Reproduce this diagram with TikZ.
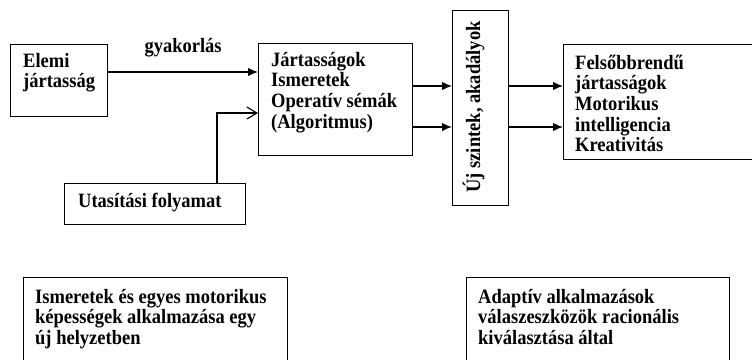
\documentclass[tikz,border=0pt]{standalone}
\usepackage{graphicx}
\usepackage{fontspec}
\setmainfont{Liberation Serif}
\usetikzlibrary{arrows.meta}
% left-aligned lines whose reference point is the first baseline,
% set slightly taller than the font's natural shape
\newcommand\linestack[1]{\scalebox{1}[1.1]{\vtop{\halign{##\hfil\cr#1\crcr}}}}
\newcommand\tallline[1]{\scalebox{1}[1.1]{#1}}

\begin{document}
\begin{tikzpicture}[x=1pt,y=-1pt,
  box/.style={draw, line width=1.15pt, inner sep=0pt, anchor=north west},
  txt/.style={anchor=base west, inner sep=0pt,
              font=\bfseries\fontsize{18.5}{18.8}\selectfont},
  arr/.style={line width=1.15pt, -{Latex[length=10pt,width=8.5pt]}},
  openarr/.style={line width=1.15pt, -{Straight Barb[length=10pt,width=12pt]}},
  ]
\useasboundingbox (0,0) rectangle (752,359);
\clip (0,0) rectangle (752,359);

% boxes
\node[box, minimum width=97pt,  minimum height=72pt]  (elemi) at (10,44)  {};
\node[box, minimum width=154pt, minimum height=112pt] (mid)   at (258,43) {};
\node[box, minimum width=56pt,  minimum height=195pt] (gate)  at (452,10) {};
\node[box, minimum width=200pt, minimum height=115pt] (high)  at (563,44) {};
\node[box, minimum width=181pt, minimum height=41pt]  (utas)  at (64,183) {};
\node[box, minimum width=264pt, minimum height=100pt] (appl)  at (23,277) {};
\node[box, minimum width=263pt, minimum height=100pt] (adapt) at (466,277) {};

% texts
\node[txt] (telemi) at (23,67)  {\linestack{Elemi\cr jártasság}};
\node[txt] (tmid)   at (271,66) {\linestack{Jártasságok\cr Ismeretek\cr Operatív sémák\cr (Algoritmus)}};
\node[txt, anchor=base, rotate=90] (tgate) at (480,107) {\tallline{Új szintek, akadályok}};
\node[txt] (thigh)  at (575,69) {\linestack{Felsőbbrendű\cr jártasságok\cr Motorikus\cr intelligencia\cr Kreativitás}};
\node[txt] (tutas)  at (78,207) {\tallline{Utasítási folyamat}};
\node[txt] (tappl)  at (35,303) {\linestack{Ismeretek és egyes motorikus\cr képességek alkalmazása egy\cr új helyzetben}};
\node[txt] (tadapt) at (478,303) {\linestack{Adaptív alkalmazások\cr válaszeszközök racionális\cr kiválasztása által}};

% connector heights
\coordinate (ya) at (0,72);
\coordinate (yb) at (0,86);
\coordinate (yc) at (0,127);
\coordinate (yd) at (0,113);
\coordinate (xu) at (217,0);

% connectors
\draw[arr] (elemi.east |- ya) -- node[txt, anchor=base, yshift=20pt] (tgyak) {\tallline{gyakorlás}} (mid.west |- ya);
\draw[openarr] (utas.north -| xu) |- (mid.west |- yd);
\draw[arr] (mid.east |- yb) -- (gate.west |- yb);
\draw[arr] (mid.east |- yc) -- (gate.west |- yc);
\draw[arr] (gate.east |- yb) -- (high.west |- yb);
\draw[arr] (gate.east |- yc) -- (high.west |- yc);
\end{tikzpicture}
\end{document}
